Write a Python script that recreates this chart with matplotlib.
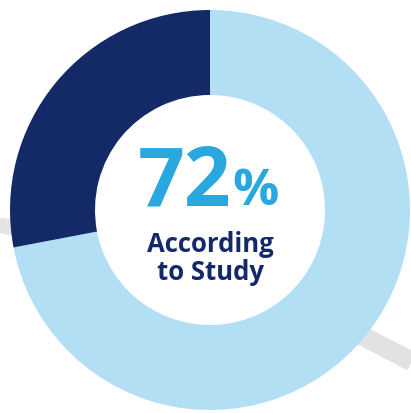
import matplotlib.pyplot as plt

# data
shares = [72, 28]
colors = ['#b3dff5', '#132a67']
big_label = '72'
sub_lines = ['According', 'to Study']

W, H = 411, 414

fig = plt.figure(figsize=(W / 100, H / 100), dpi=100)
ax = fig.add_axes([0, 0, 1, 1])
ax.set_aspect('equal')

# faint grey streaks behind the ring
ax.plot([-5, 40], [H - 225, H - 235], color='#e4e4e4', lw=11, solid_capstyle='butt', zorder=0)
ax.plot([330, 430], [H - 320, H - 372], color='#e2e2e2', lw=14, solid_capstyle='butt', zorder=0)

ax.pie(shares, colors=colors, startangle=90, counterclock=False,
       center=(210, H - 211), radius=200, frame=True,
       wedgeprops=dict(width=85, linewidth=0))
ax.set_xlim(0, W)
ax.set_ylim(0, H)
ax.axis('off')

font = 'Open Sans'
ax.text(231, H - 205, big_label, ha='right', va='baseline', fontsize=59,
        fontweight='bold', color='#29a8e0', family=font)
ax.text(232, H - 205, '%', ha='left', va='baseline', fontsize=37,
        fontweight='bold', color='#29a8e0', family=font)
for i, line in enumerate(sub_lines):
    ax.text(210, H - 252 - 28 * i, line, ha='center', va='baseline', fontsize=18.5,
            fontweight='bold', color='#13296a', family=font)

fig.savefig('out.png', dpi=100)
